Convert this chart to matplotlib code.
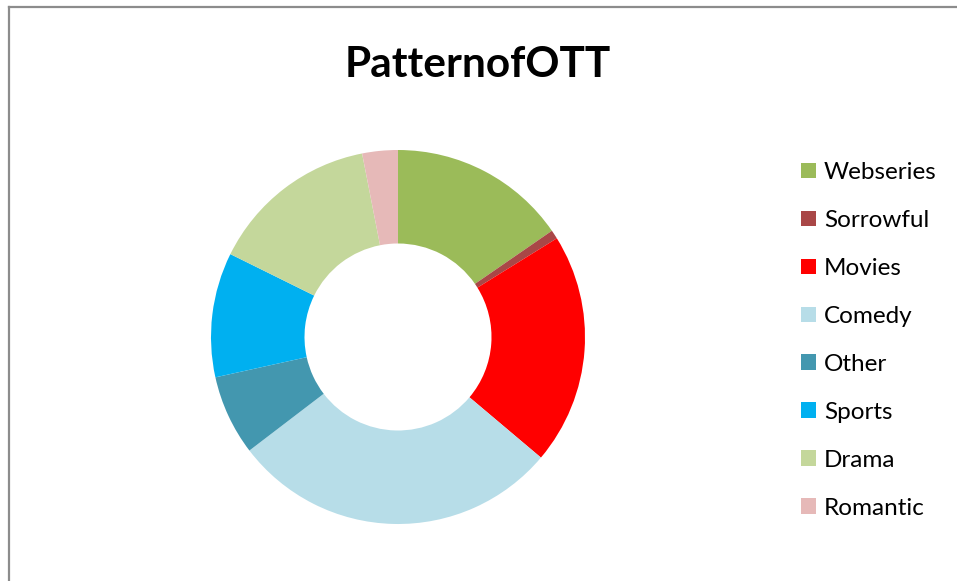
import matplotlib
matplotlib.use("Agg")
import matplotlib.pyplot as plt
from matplotlib.patches import Patch
from matplotlib.lines import Line2D

categories = ["Webseries", "Sorrowful", "Movies", "Comedy", "Other", "Sports", "Drama", "Romantic"]
values = [20, 1, 26, 37, 9, 14, 19, 4]
colors = ["#9BBB59", "#A94747", "#FF0000", "#B7DDE8", "#4397AF", "#00B0F0", "#C4D79B", "#E6B9B8"]
title = "PatternofOTT"

W, H = 957, 581
fig = plt.figure(figsize=(W / 100, H / 100), dpi=100)
fig.patch.set_facecolor("white")

# chart frame (left and top edges visible)
fig.add_artist(Line2D([8.5 / W, 8.5 / W], [-0.1, 1 - 6.5 / H], transform=fig.transFigure,
                      color="#8C8C8C", lw=1.6))
fig.add_artist(Line2D([8.5 / W, 1.1], [1 - 6.5 / H, 1 - 6.5 / H], transform=fig.transFigure,
                      color="#8C8C8C", lw=1.6))

cx, cy, r = 398, 337, 187
ax = fig.add_axes([(cx - r) / W, (H - cy - r) / H, 2 * r / W, 2 * r / H])
wedges, _ = ax.pie(values, colors=colors, startangle=90, counterclock=False,
                   radius=1.0, wedgeprops=dict(width=0.5, linewidth=0))
ax.set_xlim(-1, 1)
ax.set_ylim(-1, 1)
ax.set_aspect("equal")
ax.axis("off")

fig.text(478 / W, 1 - 65 / H, title, ha="center", va="center",
         fontsize=30.5, fontweight="bold", family=["Lato", "DejaVu Sans"])

handles = [Patch(facecolor=c, edgecolor="none") for c in colors]
leg = fig.legend(handles, categories, loc="upper left",
                 bbox_to_anchor=(801 / W, 1 - 162 / H), frameon=False,
                 prop=dict(family=["Lato", "DejaVu Sans"], size=17.5),
                 handlelength=0.62, handleheight=0.62, handletextpad=0.33,
                 labelspacing=1.11, borderaxespad=0, borderpad=0)

fig.savefig("out.png", dpi=100)
